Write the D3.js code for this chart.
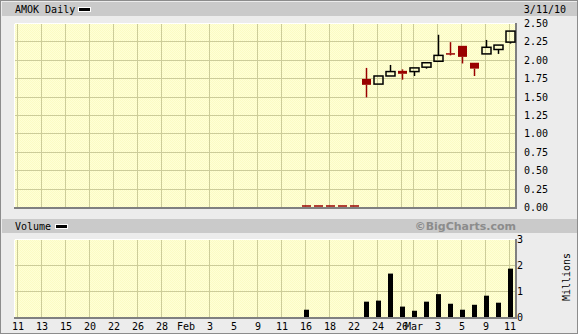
<!DOCTYPE html>
<html>
<head>
<meta charset="utf-8">
<script src="https://cdn.jsdelivr.net/npm/d3@7"></script>
<style>
  body { margin: 0; background: #fff; }
  text { font-family: "DejaVu Sans Mono", monospace; font-size: 10px; fill: #000; }
</style>
</head>
<body>
<div id="chart"></div>
<script>
// trading days shown on the x axis (Jan 11 - Mar 11, 2010)
var days = ["1/11","1/12","1/13","1/14","1/15","1/19","1/20","1/21","1/22",
    "1/25","1/26","1/27","1/28","1/29","2/1","2/2","2/3","2/4","2/5",
    "2/8","2/9","2/10","2/11","2/12","2/16","2/17","2/18","2/19","2/22",
    "2/23","2/24","2/25","2/26","3/1","3/2","3/3","3/4","3/5",
    "3/8","3/9","3/10","3/11"];

// price series, from 2/16 on (index 24)
var firstDay = 24;
var open  = [0, 0, 0, 0, 0, 1.74, 1.67, 1.78, 1.85, 1.84, 1.90, 1.98, 2.09, 2.19, 1.96, 2.08, 2.14, 2.24];
var high  = [0, 0, 0, 0, 0, 1.89, 1.78, 1.93, 1.87, 1.89, 1.97, 2.34, 2.24, 2.19, 1.96, 2.27, 2.20, 2.39];
var low   = [0, 0, 0, 0, 0, 1.49, 1.67, 1.78, 1.73, 1.78, 1.88, 1.98, 2.06, 1.95, 1.78, 2.08, 2.08, 2.22];
var close = [0, 0, 0, 0, 0, 1.66, 1.78, 1.84, 1.81, 1.89, 1.96, 2.06, 2.08, 2.04, 1.88, 2.17, 2.20, 2.39];

// volume in millions, from 2/16 on
var volume = [0.28, 0, 0, 0, 0, 0.59, 0.63, 1.67, 0.40, 0.24, 0.59, 0.88, 0.51, 0.28, 0.47, 0.82, 0.55, 1.86];

// x axis labels
var tickIndex = [0, 2, 4, 6, 8, 10, 12, 14, 16, 18, 20, 22, 24, 26, 28, 30, 32, 33, 35, 37, 39, 41];
var tickText  = ["11","13","15","20","22","26","28","Feb","3","5","9","11",
    "16","18","22","24","26","Mar","3","5","9","11"];

var priceTicks = [0, 0.25, 0.5, 0.75, 1, 1.25, 1.5, 1.75, 2, 2.25, 2.5];
var volumeTicks = [0, 1, 2, 3];

var W = 579, H = 335;
var plotL = 14, plotR = 515;
var red = "#990000";

var svg = d3.select("#chart").append("svg")
    .attr("width", W).attr("height", H);

var defs = svg.append("defs");
var pat = defs.append("pattern").attr("id", "dither")
    .attr("width", 2).attr("height", 2).attr("patternUnits", "userSpaceOnUse");
pat.append("rect").attr("width", 2).attr("height", 2).attr("fill", "#ffffd6");
pat.append("rect").attr("width", 1).attr("height", 1).attr("fill", "#fbfbc4");
pat.append("rect").attr("x", 1).attr("y", 1).attr("width", 1).attr("height", 1).attr("fill", "#fbfbc4");

// outer frame
svg.append("rect").attr("x", 0.5).attr("y", 0.5).attr("width", W - 2).attr("height", H - 2)
    .attr("fill", "#ececec").attr("stroke", "#8c8c8c");

var x = d3.scaleLinear().domain([0, days.length - 1]).range([18, 510]);
var yP = d3.scaleLinear().domain([0, 2.5]).range([207, 23]);
var yV = d3.scaleLinear().domain([0, 3]).range([317, 239]);

function headerBar(y0) {
    svg.append("rect").attr("x", 2).attr("y", y0).attr("width", W - 4).attr("height", 14)
        .attr("fill", "#cacaca");
}

function legendSwatch(xs, ys) {
    svg.append("rect").attr("x", xs).attr("y", ys).attr("width", 12).attr("height", 4)
        .attr("fill", "#000").attr("stroke", "#fff").attr("stroke-width", 1);
}

function panel(top, bottom, yScale, hTicks) {
    var g = svg.append("g");
    g.append("rect").attr("x", plotL).attr("y", top).attr("width", plotR - plotL).attr("height", bottom - top)
        .attr("fill", "url(#dither)");
    g.selectAll(".hg").data(hTicks).enter().append("line")
        .attr("x1", plotL).attr("x2", plotR)
        .attr("y1", function (d) { return Math.round(yScale(d)) + 0.5; })
        .attr("y2", function (d) { return Math.round(yScale(d)) + 0.5; })
        .attr("stroke", "#cccc99");
    g.selectAll(".vg").data(tickIndex).enter().append("line")
        .attr("x1", function (d) { return Math.round(x(d)) - 0.5; })
        .attr("x2", function (d) { return Math.round(x(d)) - 0.5; })
        .attr("y1", top).attr("y2", bottom)
        .attr("stroke", "#cccc99");
    // inset border: light top/left, dark bottom/right
    g.append("path").attr("d", "M" + (plotL + 0.5) + "," + bottom + "V" + (top + 0.5) + "H" + plotR)
        .attr("fill", "none").attr("stroke", "#fff");
    g.append("path").attr("d", "M" + plotL + "," + (bottom + 1) + "H" + (plotR + 1) + "V" + top)
        .attr("fill", "none").attr("stroke", "#808080").attr("stroke-width", 2);
    return g;
}

// ---- price panel ----
headerBar(2);
svg.append("text").attr("x", 15).attr("y", 13).text("AMOK Daily");
legendSwatch(78.5, 7.5);
svg.append("text").attr("x", 566).attr("y", 13).attr("text-anchor", "end").text("3/11/10");

var pg = panel(23, 207, yP, priceTicks);

svg.selectAll(".pl").data(priceTicks).enter().append("text")
    .attr("x", 524).attr("y", function (d) { return yP(d) + 4; })
    .text(function (d) { return d3.format(".2f")(d); });

var candles = open.map(function (o, i) {
    return { i: firstDay + i, o: o, h: high[i], l: low[i], c: close[i] };
});

var bw = 9;
candles.forEach(function (d) {
    var cx = Math.round(x(d.i)) + 0.5;
    var up = d.c > d.o;
    var col = up ? "#000" : red;
    var top = Math.min(yP(d.o), yP(d.c)), bot = Math.max(yP(d.o), yP(d.c));
    if (d.h === 0) {
        pg.append("line").attr("x1", cx - bw / 2).attr("x2", cx + bw / 2)
            .attr("y1", yP(0) - 1).attr("y2", yP(0) - 1)
            .attr("stroke", red).attr("stroke-width", 1.5);
        return;
    }
    pg.append("line").attr("x1", cx).attr("x2", cx).attr("y1", yP(d.h)).attr("y2", top)
        .attr("stroke", col).attr("stroke-width", 1.5);
    pg.append("line").attr("x1", cx).attr("x2", cx).attr("y1", bot).attr("y2", yP(d.l))
        .attr("stroke", col).attr("stroke-width", 1.5);
    if (up) {
        pg.append("rect").attr("x", cx - bw / 2).attr("y", top).attr("width", bw).attr("height", bot - top)
            .attr("fill", "none").attr("stroke", "#000").attr("stroke-width", 1.5);
    } else {
        pg.append("rect").attr("x", cx - bw / 2).attr("y", top).attr("width", bw)
            .attr("height", Math.max(bot - top, 1.5))
            .attr("fill", red);
    }
});

// ---- volume panel ----
headerBar(219);
svg.append("text").attr("x", 15).attr("y", 230).text("Volume");
legendSwatch(55.5, 224.5);
svg.append("text").attr("x", 516).attr("y", 230).attr("text-anchor", "end")
    .style("font-family", "'DejaVu Sans', sans-serif").style("font-weight", "bold")
    .style("font-size", "11px").style("fill", "#8c8c8c")
    .text("\u00a9BigCharts.com");

var vg = panel(239, 317, yV, volumeTicks);

vg.selectAll(".vb").data(volume).enter().append("rect")
    .attr("x", function (d, i) { return Math.round(x(firstDay + i)) - 2; })
    .attr("y", function (d) { return yV(d); })
    .attr("width", 5)
    .attr("height", function (d) { return yV(0) - yV(d); })
    .attr("fill", "#000");

svg.selectAll(".vl").data(volumeTicks).enter().append("text")
    .attr("x", 517).attr("y", function (d) { return yV(d) + 4; })
    .text(function (d) { return d; });

svg.append("text").attr("transform", "translate(570,277) rotate(-90)")
    .attr("text-anchor", "middle").text("Millions");

// x axis labels
svg.selectAll(".xl").data(tickIndex).enter().append("text")
    .attr("x", function (d) { return x(d); }).attr("y", 330)
    .attr("text-anchor", "middle")
    .text(function (d, i) { return tickText[i]; });
</script>
</body>
</html>
